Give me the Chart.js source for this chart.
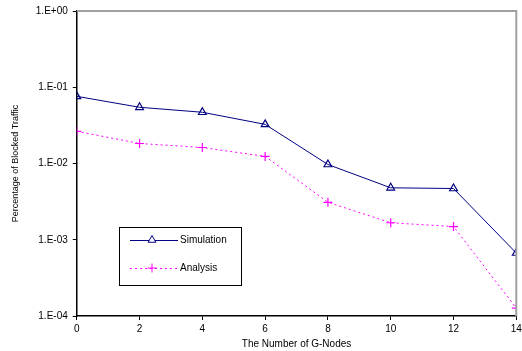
<!DOCTYPE html>
<html>
<head>
<meta charset="utf-8">
<script src="https://cdn.jsdelivr.net/npm/chart.js@4"></script>
<style>
  html, body { margin: 0; padding: 0; background: #fff; }
  #wrap { width: 522px; height: 351px; position: relative; }
</style>
</head>
<body>
<div id="wrap"><canvas id="blockChart"></canvas></div>
<script>
const gNodes = [0, 2, 4, 6, 8, 10, 12, 14];
const simulation = [0.076, 0.0546, 0.047, 0.0326, 0.0097, 0.0048, 0.0047, 0.00067];
const analysis = [0.0264, 0.0183, 0.0162, 0.0124, 0.0031, 0.00167, 0.00149, 0.000127];
const yTicks = [1e-4, 1e-3, 1e-2, 1e-1, 1];

function expLabel(v) {
  let e = Math.round(Math.log10(v));
  let s = Math.abs(e) < 10 ? '0' + Math.abs(e) : '' + Math.abs(e);
  return '1.E' + (e < 0 ? '-' : '+') + s;
}

// gray frame on top/right + legend box inside the plot
const framePlugin = {
  id: 'frame',
  afterDraw(chart) {
    let ctx = chart.ctx, a = chart.chartArea;
    ctx.save();
    ctx.strokeStyle = '#a0a0a0';
    ctx.lineWidth = 2;
    ctx.beginPath();
    ctx.moveTo(a.left, a.top);
    ctx.lineTo(a.right, a.top);
    ctx.lineTo(a.right, a.bottom);
    ctx.stroke();

    // legend
    ctx.strokeStyle = '#000';
    ctx.lineWidth = 1;
    ctx.strokeRect(119.5, 227.5, 122, 58);
    ctx.font = '10px "Liberation Sans", Arial, sans-serif';
    let rows = [[chart.data.datasets[0], 240], [chart.data.datasets[1], 268]];
    rows.forEach(([ds, y]) => {
      ctx.strokeStyle = ds.borderColor;
      ctx.lineWidth = 1;
      ctx.setLineDash(ds.borderDash || []);
      ctx.beginPath();
      ctx.moveTo(130, y + 0.5);
      ctx.lineTo(178, y + 0.5);
      ctx.stroke();
      ctx.setLineDash([]);
      ctx.fillStyle = '#fff';
      Chart.helpers.drawPoint(ctx, {
        pointStyle: ds.pointStyle, radius: ds.pointRadius, borderWidth: 1.2
      }, 152, y);
      ctx.fillStyle = '#000';
      ctx.textBaseline = 'middle';
      ctx.fillText(ds.label, 180, y);
    });
    ctx.restore();
  }
};

new Chart(document.getElementById('blockChart'), {
  type: 'line',
  data: {
    datasets: [
      {
        label: 'Simulation',
        data: gNodes.map((x, i) => ({ x: x, y: simulation[i] })),
        borderColor: '#000080',
        backgroundColor: 'rgba(255,255,255,0)',
        borderWidth: 1,
        pointStyle: 'triangle',
        pointRadius: 4.5,
        pointBorderWidth: 1.2,
        tension: 0
      },
      {
        label: 'Analysis',
        data: gNodes.map((x, i) => ({ x: x, y: analysis[i] })),
        borderColor: '#ff00ff',
        backgroundColor: '#ff00ff',
        borderWidth: 1,
        borderDash: [2, 3],
        pointStyle: 'cross',
        pointRadius: 4.5,
        pointBorderWidth: 1.2,
        tension: 0
      }
    ]
  },
  options: {
    responsive: true,
    maintainAspectRatio: false,
    animation: false,
    events: [],
    layout: { padding: { top: 10, right: 0, left: 10, bottom: 0 } },
    plugins: {
      legend: { display: false },
      tooltip: { enabled: false }
    },
    scales: {
      x: {
        type: 'linear',
        min: 0,
        max: 14,
        afterFit(scale) {
          scale.paddingRight = 5;
        },
        ticks: {
          stepSize: 2,
          color: '#000',
          font: { family: '"Liberation Sans", Arial, sans-serif', size: 10 },
          padding: 3,
          maxRotation: 0
        },
        grid: {
          display: true,
          drawOnChartArea: false,
          drawTicks: true,
          tickLength: 4,
          color: '#000'
        },
        border: { color: '#000', width: 1.5 },
        title: {
          display: true,
          text: 'The Number of G-Nodes',
          color: '#000',
          font: { family: '"Liberation Sans", Arial, sans-serif', size: 10 },
          padding: { top: 0, bottom: 1 }
        }
      },
      y: {
        type: 'logarithmic',
        min: 1e-4,
        max: 1,
        afterBuildTicks(scale) {
          scale.ticks = yTicks.map(v => ({ value: v, major: true }));
        },
        ticks: {
          color: '#000',
          font: { family: '"Liberation Sans", Arial, sans-serif', size: 10 },
          padding: 5,
          callback: v => expLabel(v)
        },
        grid: {
          display: true,
          drawOnChartArea: false,
          drawTicks: true,
          tickLength: 4,
          color: '#000'
        },
        border: { color: '#000', width: 1.5 },
        title: {
          display: true,
          text: 'Percentage of Blocked Traffic',
          color: '#000',
          font: { family: '"Liberation Sans", Arial, sans-serif', size: 9 },
          padding: { top: 0, bottom: 10 }
        }
      }
    }
  },
  plugins: [framePlugin]
});
</script>
</body>
</html>
